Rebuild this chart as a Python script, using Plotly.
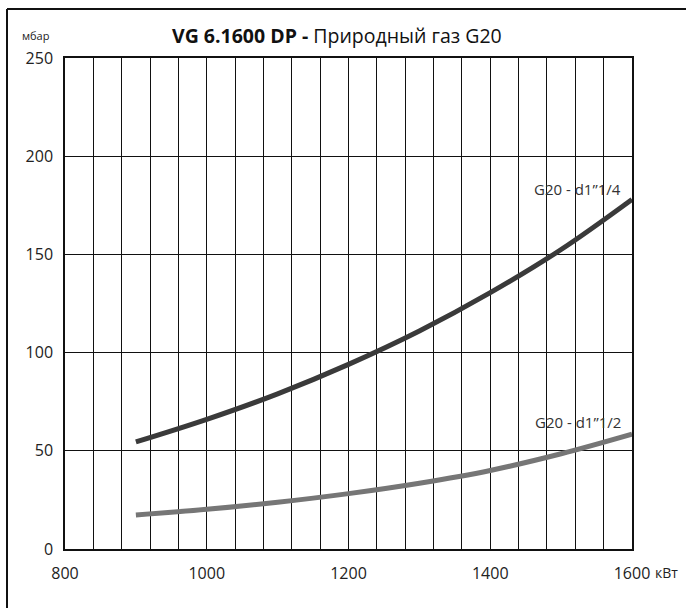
import plotly.graph_objects as go

power_kw = [900, 1000, 1100, 1200, 1300, 1400, 1500, 1600]
p_d1_1_4 = [54.5, 66, 79, 94, 111, 130.5, 152.5, 178]
p_d1_1_2 = [17.3, 20.2, 23.8, 28.2, 33.5, 40, 48.5, 58.5]

x_ticks = list(range(800, 1601, 40))
x_ticktext = [str(v) if v % 200 == 0 else "" for v in x_ticks]
y_ticks = [0, 50, 100, 150, 200, 250]

W, H = 686, 608
L, R, T, B = 65, 54, 58, 59
pw, ph = W - L - R, H - T - B

def px(x):
    return (x - L) / pw

def py(y):
    return 1 - (y - T) / ph

font = "Open Sans, Liberation Sans, Arial, sans-serif"

fig = go.Figure()
fig.add_trace(go.Scatter(x=power_kw, y=p_d1_1_4, mode="lines",
                         line=dict(color="#3a3a3a", width=5, shape="spline", smoothing=1),
                         showlegend=False, hoverinfo="skip"))
fig.add_trace(go.Scatter(x=power_kw, y=p_d1_1_2, mode="lines",
                         line=dict(color="#767676", width=5, shape="spline", smoothing=1),
                         showlegend=False, hoverinfo="skip"))

fig.update_layout(
    width=W, height=H,
    margin=dict(l=L, r=R, t=T, b=B, autoexpand=False),
    paper_bgcolor="white", plot_bgcolor="white",
    font=dict(family=font, size=16, color="#222"),
    xaxis=dict(range=[800, 1600], tickvals=x_ticks, ticktext=x_ticktext,
               showgrid=True, gridcolor="#111", gridwidth=1,
               showline=True, linecolor="#111", linewidth=1.5, mirror=True,
               ticks="outside", ticklen=9, tickcolor="rgba(0,0,0,0)",
               zeroline=False, fixedrange=True),
    yaxis=dict(range=[0, 250], tickvals=y_ticks,
               showgrid=True, gridcolor="#111", gridwidth=1,
               showline=True, linecolor="#111", linewidth=1.5, mirror=True,
               ticks="outside", ticklen=7, tickcolor="rgba(0,0,0,0)",
               zeroline=False, fixedrange=True),
)

# outer frame (open at right and bottom, continuing past the picture)
fig.add_shape(type="line", xref="paper", yref="paper",
              x0=px(7), x1=px(7), y0=py(608), y1=py(9),
              line=dict(color="#111", width=2))
fig.add_shape(type="line", xref="paper", yref="paper",
              x0=px(7), x1=px(686), y0=py(9), y1=py(9),
              line=dict(color="#111", width=2))

fig.add_annotation(xref="paper", yref="paper", x=px(337), y=py(35),
                   text="<b>VG 6.1600 DP -</b> Природный газ G20",
                   showarrow=False, font=dict(size=19.5, color="#111"),
                   xanchor="center", yanchor="middle")
fig.add_annotation(xref="paper", yref="paper", x=px(36), y=py(36),
                   text="мбар", showarrow=False, font=dict(size=11, color="#222"),
                   xanchor="center", yanchor="middle")
fig.add_annotation(xref="paper", yref="paper", x=px(653), y=py(572),
                   text="кВт", showarrow=False, font=dict(size=14, color="#222"),
                   xanchor="left", yanchor="middle")
fig.add_annotation(xref="paper", yref="paper", x=px(623), y=py(189),
                   text="G20 - d1”1/4", showarrow=False, font=dict(size=15, color="#333"),
                   xanchor="right", yanchor="middle")
fig.add_annotation(xref="paper", yref="paper", x=px(623), y=py(422),
                   text="G20 - d1”1/2", showarrow=False, font=dict(size=15, color="#333"),
                   xanchor="right", yanchor="middle")

fig.write_html("out.html", config={"displayModeBar": False},
               post_script="document.body.style.margin='0';document.body.style.overflow='hidden';")
